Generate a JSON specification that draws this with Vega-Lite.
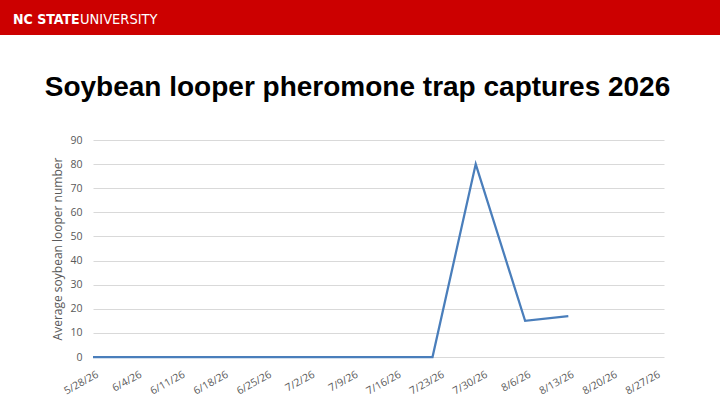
{
  "$schema": "https://vega.github.io/schema/vega-lite/v6.json",
  "background": "white",
  "padding": 0,
  "spacing": 39,
  "config": {
    "view": {"stroke": null},
    "font": "Open Sans"
  },
  "vconcat": [
    {
      "width": 720,
      "height": 35,
      "view": {"fill": "#cc0000", "stroke": null},
      "data": {"values": [{"word": "NC STATE"}, {"word": "UNIVERSITY"}]},
      "layer": [
        {
          "transform": [{"filter": "datum.word == 'NC STATE'"}],
          "mark": {"type": "text", "align": "left", "baseline": "alphabetic", "font": "'DejaVu Sans Condensed', 'Liberation Sans', sans-serif", "fontWeight": "bold", "fontSize": 14, "color": "white"},
          "encoding": {"text": {"field": "word"}, "x": {"value": 13}, "y": {"value": 24}}
        },
        {
          "transform": [{"filter": "datum.word == 'UNIVERSITY'"}],
          "mark": {"type": "text", "align": "left", "baseline": "alphabetic", "font": "'DejaVu Sans Condensed', 'Liberation Sans', sans-serif", "fontWeight": "normal", "fontSize": 14.5, "color": "white"},
          "encoding": {"text": {"field": "word"}, "x": {"value": 80}, "y": {"value": 24}}
        }
      ]
    },
    {
      "spacing": 0,
      "hconcat": [
        {
          "width": 44,
          "height": 1,
          "data": {"values": [{"word": ""}]},
          "mark": "text",
          "encoding": {"text": {"field": "word"}}
        },
        {
          "width": 571,
          "height": 217,
          "title": {
            "text": "Soybean looper pheromone trap captures 2026",
            "font": "Liberation Sans",
            "fontSize": 28,
            "fontWeight": "bold",
            "color": "black",
            "anchor": "middle",
            "dx": -21,
            "offset": 33
          },
          "data": {
            "values": [
              {"date": "2026-05-28", "count": 0},
              {"date": "2026-06-04", "count": 0},
              {"date": "2026-06-11", "count": 0},
              {"date": "2026-06-18", "count": 0},
              {"date": "2026-06-25", "count": 0},
              {"date": "2026-07-02", "count": 0},
              {"date": "2026-07-09", "count": 0},
              {"date": "2026-07-16", "count": 0},
              {"date": "2026-07-22", "count": 0},
              {"date": "2026-07-29", "count": 80},
              {"date": "2026-08-06", "count": 15},
              {"date": "2026-08-13", "count": 17}
            ]
          },
          "mark": {"type": "line", "color": "#4a7ebb", "strokeWidth": 2.25, "clip": false},
          "encoding": {
            "x": {
              "field": "date",
              "type": "temporal",
              "scale": {
                "type": "utc",
                "nice": false,
                "domain": [
                  {"year": 2026, "month": 5, "date": 28, "utc": true},
                  {"year": 2026, "month": 8, "date": 28, "hours": 12, "utc": true}
                ]
              },
              "axis": {
                "title": null,
                "labelExpr": "utcFormat(datum.value, '%-m/%-d/%y')",
                "values": [
                  {"year": 2026, "month": 5, "date": 28, "utc": true},
                  {"year": 2026, "month": 6, "date": 4, "utc": true},
                  {"year": 2026, "month": 6, "date": 11, "utc": true},
                  {"year": 2026, "month": 6, "date": 18, "utc": true},
                  {"year": 2026, "month": 6, "date": 25, "utc": true},
                  {"year": 2026, "month": 7, "date": 2, "utc": true},
                  {"year": 2026, "month": 7, "date": 9, "utc": true},
                  {"year": 2026, "month": 7, "date": 16, "utc": true},
                  {"year": 2026, "month": 7, "date": 23, "utc": true},
                  {"year": 2026, "month": 7, "date": 30, "utc": true},
                  {"year": 2026, "month": 8, "date": 6, "utc": true},
                  {"year": 2026, "month": 8, "date": 13, "utc": true},
                  {"year": 2026, "month": 8, "date": 20, "utc": true},
                  {"year": 2026, "month": 8, "date": 27, "utc": true}
                ],
                "labelAngle": -29,
                "labelAlign": "right",
                "labelBaseline": "top",
                "labelPadding": 12,
                "labelOffset": 2,
                "labelFontSize": 10.5,
                "labelColor": "#595959",
                "labelOverlap": false,
                "labelFlush": false,
                "domain": false,
                "ticks": false,
                "grid": false
              }
            },
            "y": {
              "field": "count",
              "type": "quantitative",
              "scale": {"domain": [0, 90], "nice": false},
              "axis": {
                "title": "Average soybean looper number",
                "titleFont": "Open Sans",
                "titleFontSize": 12,
                "titleFontWeight": "normal",
                "titleColor": "#595959",
                "titlePadding": 5,
                "values": [0, 10, 20, 30, 40, 50, 60, 70, 80, 90],
                "labelFontSize": 10.5,
                "labelColor": "#595959",
                "labelPadding": 11,
                "domain": false,
                "ticks": false,
                "gridColor": "#d9d9d9",
                "gridWidth": 1
              }
            }
          }
        }
      ]
    }
  ]
}
